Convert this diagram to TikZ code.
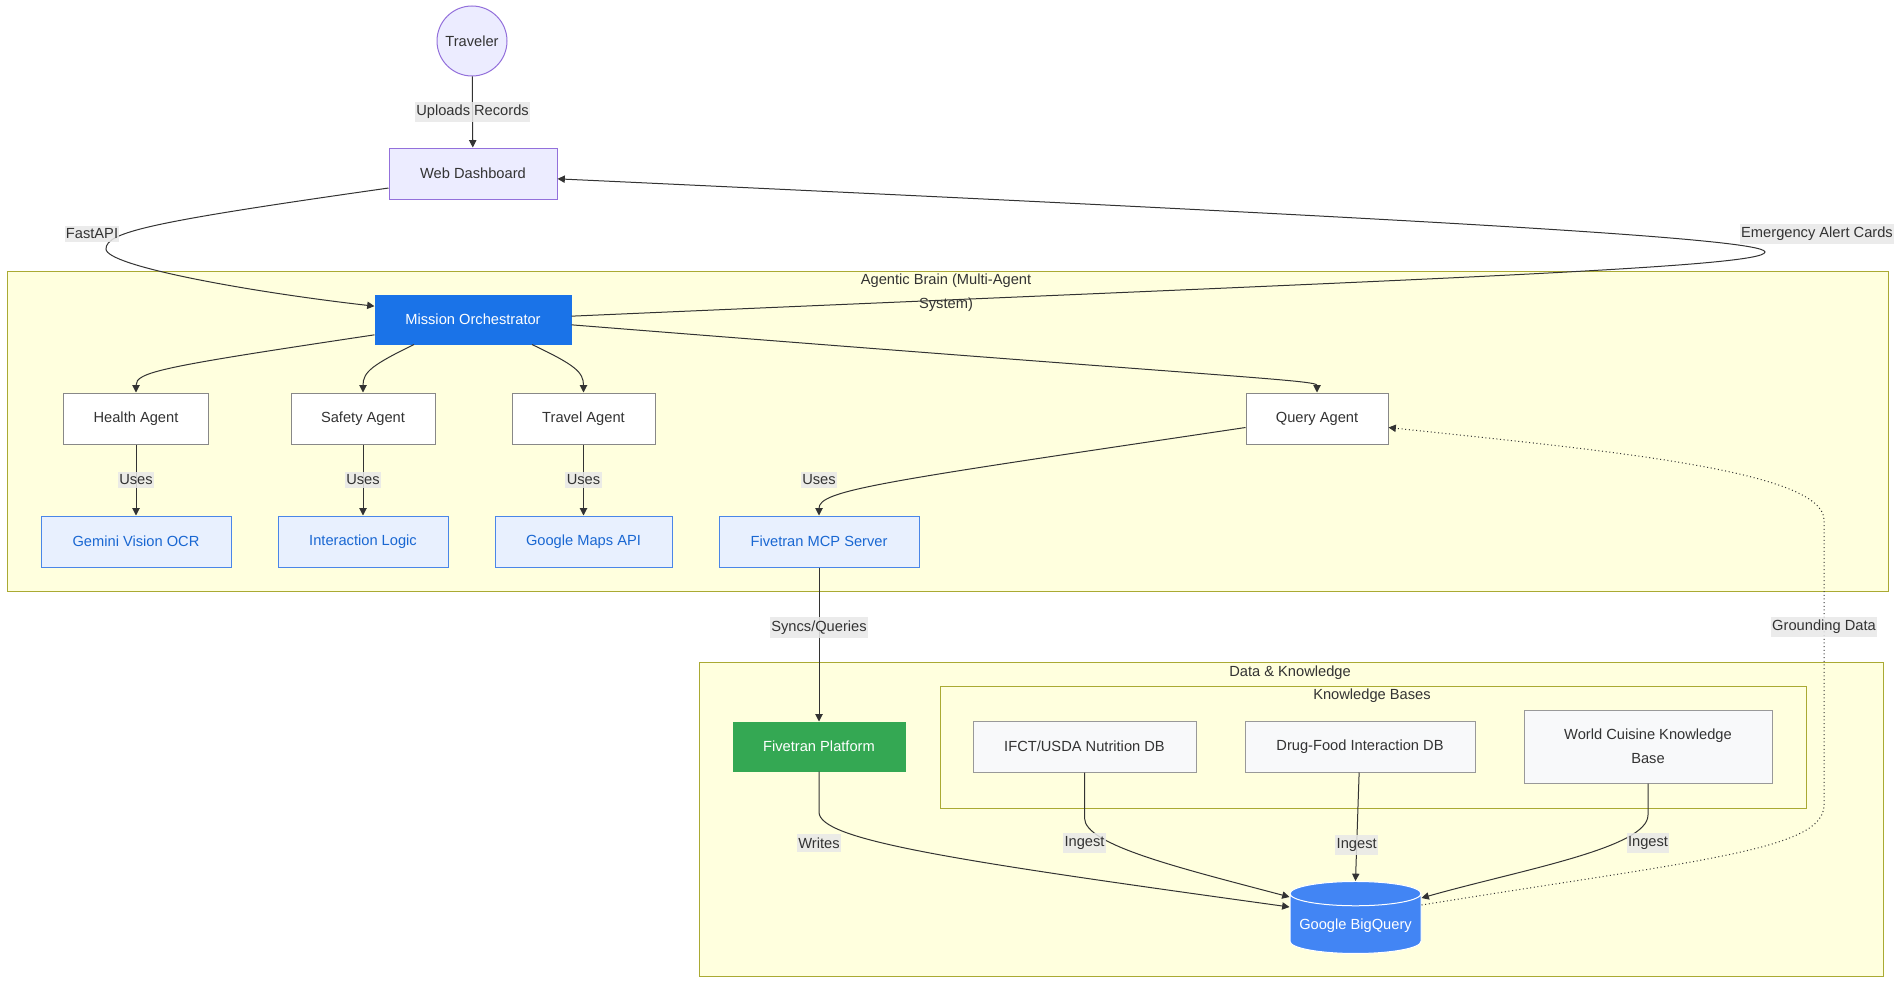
\documentclass[tikz,border=0pt]{standalone}
\usepackage{fontspec}
\setmainfont{Liberation Sans}
\usetikzlibrary{shapes.geometric, arrows.meta}

\definecolor{textgray}{HTML}{333333}
\definecolor{linkgray}{HTML}{333333}
\definecolor{labelfill}{HTML}{E8E8E8}
\definecolor{clusterfill}{HTML}{FFFFDE}
\definecolor{clusterline}{HTML}{AAAA33}
\definecolor{userfill}{HTML}{ECECFF}
\definecolor{userline}{HTML}{9370DB}
\definecolor{agentline}{HTML}{888888}
\definecolor{toolfill}{HTML}{E8F0FE}
\definecolor{toolline}{HTML}{4A86E8}
\definecolor{tooltext}{HTML}{1967D2}
\definecolor{orchfill}{HTML}{1A73E8}
\definecolor{platformfill}{HTML}{34A853}
\definecolor{kbfill}{HTML}{F8F9FA}
\definecolor{kbline}{HTML}{999999}
\definecolor{storefill}{HTML}{4285F4}

\begin{document}
\begin{tikzpicture}[x=0.75pt, y=-0.75pt, ->, >={Triangle[length=5.5pt, width=5.5pt]}, line width=0.75pt,
    font=\fontsize{11}{18}\selectfont,
    every node/.append style = {text=textgray},
    every edge/.append style = {draw=linkgray},
    cluster/.style = {rectangle, draw=clusterline, fill=clusterfill},
    title/.style = {align=center, inner sep=0pt},
    user/.style = {draw=userline, fill=userfill},
    box/.style = {rectangle, draw, minimum height=38.25pt, inner xsep=4pt},
    agent/.style = {box, draw=agentline, fill=white},
    tool/.style = {box, draw=toolline, fill=toolfill, text=tooltext},
    kb/.style = {box, draw=kbline, fill=kbfill},
    solid/.style = {box, minimum height=36.75pt, draw=#1, fill=#1, text=white},
    store/.style = {cylinder, shape border rotate=90, aspect=0.2, draw=white, fill=storefill, text=white, minimum width=98.25pt, minimum height=54pt},
    lbl/.style = {fill=labelfill, fill opacity=0.85, text opacity=1, inner xsep=1pt, inner ysep=2.5pt},
    link/.style = {draw=linkgray}]

    \fill[white] (0,0) rectangle (1904,985);
    \useasboundingbox (0,0) rectangle (1904,985);

    \node[cluster, minimum width=1410.75pt, minimum height=240pt] (brain) at (947.5,431) {};
    \node[title] (braintitle) at (946,292.5) {Agentic Brain (Multi-Agent\\System)};
    \node[cluster, minimum width=888pt, minimum height=235.5pt] (data) at (1291,819) {};
    \node[title] (datatitle) at (1290,673) {Data \& Knowledge};
    \node[cluster, minimum width=649.5pt, minimum height=91.5pt] (bases) at (1373,747) {};
    \node[title] (basestitle) at (1372,696) {Knowledge Bases};

    \node[circle, user, minimum size=52.5pt, inner sep=0pt] (traveler) at (472,41) {Traveler};
    \node[box, user, minimum width=126pt] (web) at (473,173.5) {Web Dashboard};
    \node[solid=orchfill, minimum width=147pt] (orch) at (473,319.5) {Mission Orchestrator};

    \node[agent, minimum width=108.75pt] (health) at (136,418.5) {Health Agent};
    \node[agent, minimum width=108pt] (safety) at (363,418.5) {Safety Agent};
    \node[agent, minimum width=107.25pt] (travel) at (583.5,418.5) {Travel Agent};
    \node[agent, minimum width=106.5pt] (query) at (1317,418.5) {Query Agent};

    \node[tool, minimum width=142.5pt] (ocr) at (136,541.5) {Gemini Vision OCR};
    \node[tool, minimum width=127.5pt] (logic) at (363,541.5) {Interaction Logic};
    \node[tool, minimum width=132.75pt] (maps) at (583.5,541.5) {Google Maps API};
    \node[tool, minimum width=150pt] (mcp) at (819,541.5) {Fivetran MCP Server};

    \node[solid=platformfill, minimum width=129pt] (fivetran) at (819,746.5) {Fivetran Platform};
    \node[kb, minimum width=167.25pt] (nutrition) at (1084.5,746.5) {IFCT/USDA Nutrition DB};
    \node[kb, minimum width=172.5pt] (drugfood) at (1360,746.5) {Drug-Food Interaction DB};
    \node[kb, minimum width=186pt, minimum height=54.75pt, align=center] (cuisine) at (1648,746.5) {World Cuisine Knowledge\\Base};
    \node[store] (bigquery) at (1355.5,926) {Google BigQuery};

    \coordinate (fastturn) at (106,249);
    \coordinate (alertturn) at (1765,252);
    \coordinate (groundlow) at (1824,805);
    \coordinate (groundhigh) at (1824,520);

    \path (traveler) edge node[lbl] {Uploads Records} (web);
    \draw[link] ([yshift=-10.9pt]web.west) .. controls (150,222) and (106,232) .. (fastturn)
        .. controls (106,266) and (250,292) .. ([yshift=10pt]orch.west);
    \draw[link] ([yshift=2.5pt]orch.east) .. controls (1400,280) and (1765,268) .. (alertturn)
        .. controls (1765,238) and (1400,218) .. ([yshift=-4pt]web.east);

    \draw[link] ([yshift=-11.5pt]orch.west) .. controls (160,367) and (136,372) .. (health.north);
    \draw[link] ([xshift=-44.25pt]orch.south) .. controls (372,365) and (363,372) .. (safety.north);
    \draw[link] ([xshift=44.25pt]orch.south) .. controls (575,365) and (583.5,372) .. (travel.north);
    \draw[link] ([yshift=-4pt]orch.east) .. controls (1240,378) and (1317,380) .. (query.north);

    \path (health) edge node[lbl] {Uses} (ocr);
    \path (safety) edge node[lbl] {Uses} (logic);
    \path (travel) edge node[lbl] {Uses} (maps);
    \draw[link] ([yshift=-6.75pt]query.west) .. controls (880,482) and (819,490) .. (mcp.north);
    \path (mcp) edge node[lbl, pos=0.39] {Syncs/Queries} (fivetran);

    \draw[link] (fivetran.south) -- (819,812) .. controls (819,840) and (950,860) .. ([yshift=14.25pt]bigquery.west);
    \draw[link] (nutrition.south) -- (1084.5,818) .. controls (1084.5,845) and (1180,868) .. ([yshift=21.75pt]bigquery.west);
    \path (drugfood) edge node[lbl, pos=0.67] {Ingest} (bigquery.north);
    \draw[link] (cuisine.south) -- (1648,815) .. controls (1648,848) and (1520,870) .. ([yshift=21pt]bigquery.east);
    \draw[link, dotted] ([yshift=15.75pt]bigquery.east) .. controls (1700,860) and (1824,850) .. (groundlow)
        -- (groundhigh) .. controls (1824,470) and (1600,450) .. ([yshift=-6.75pt]query.east);

    \node[lbl] (fastlbl) at (92,234) {FastAPI};
    \node[lbl] (alertlbl) at (1817,234) {Emergency Alert Cards};
    \node[lbl] (querylbl) at (819,480) {Uses};
    \node[lbl] (groundlbl) at (1824,627) {Grounding Data};
    \node[lbl] (writelbl) at (819,843) {Writes};
    \node[lbl] (nutrlbl) at (1084.5,843) {Ingest};
    \node[lbl] (cuisinelbl) at (1648,843) {Ingest};
\end{tikzpicture}
\end{document}
